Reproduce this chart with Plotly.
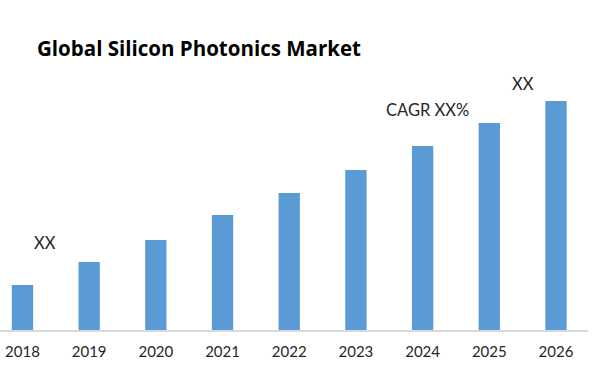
import plotly.graph_objects as go

years = ["2018", "2019", "2020", "2021", "2022", "2023", "2024", "2025", "2026"]
values = [45, 68, 90, 115, 137, 160, 184, 207, 229]
title_text = "Global Silicon Photonics Market"
notes = [
    {"text": "XX", "x": 0.34, "y": 87},
    {"text": "CAGR XX%", "x": 6.08, "y": 220},
    {"text": "XX", "x": 7.5, "y": 246},
]

fig = go.Figure(go.Bar(
    x=list(range(len(years))), y=values,
    marker=dict(color="#5b9bd5", line=dict(width=0)),
    width=0.32,
))

fig.update_layout(
    width=600, height=365,
    margin=dict(l=0, r=12, t=80, b=35),
    paper_bgcolor="white", plot_bgcolor="white",
    showlegend=False,
    font=dict(family="Lato, Open Sans, sans-serif", color="#262626"),
    title=dict(text="<b>" + title_text + "</b>", x=37/600, xanchor="left",
               y=1 - 49/365, yanchor="middle",
               font=dict(size=20.5, color="#000000", family="Open Sans, sans-serif")),
    xaxis=dict(
        tickmode="array", tickvals=list(range(len(years))), ticktext=years,
        range=[-0.337, 8.48], showgrid=False, zeroline=False,
        showline=True, linecolor="#d9d9d9", linewidth=1.5,
        ticks="", tickfont=dict(size=15, color="#262626"),
        ticklabelstandoff=7,
    ),
    yaxis=dict(range=[0, 250], visible=False),
)

for n in notes:
    fig.add_annotation(text=n["text"], x=n["x"], y=n["y"], xref="x", yref="y",
                       showarrow=False, font=dict(size=16.5, color="#262626"),
                       xanchor="center", yanchor="middle")

fig.write_html("out.html", config={"displayModeBar": False},
               post_script="document.body.style.margin='0';")
